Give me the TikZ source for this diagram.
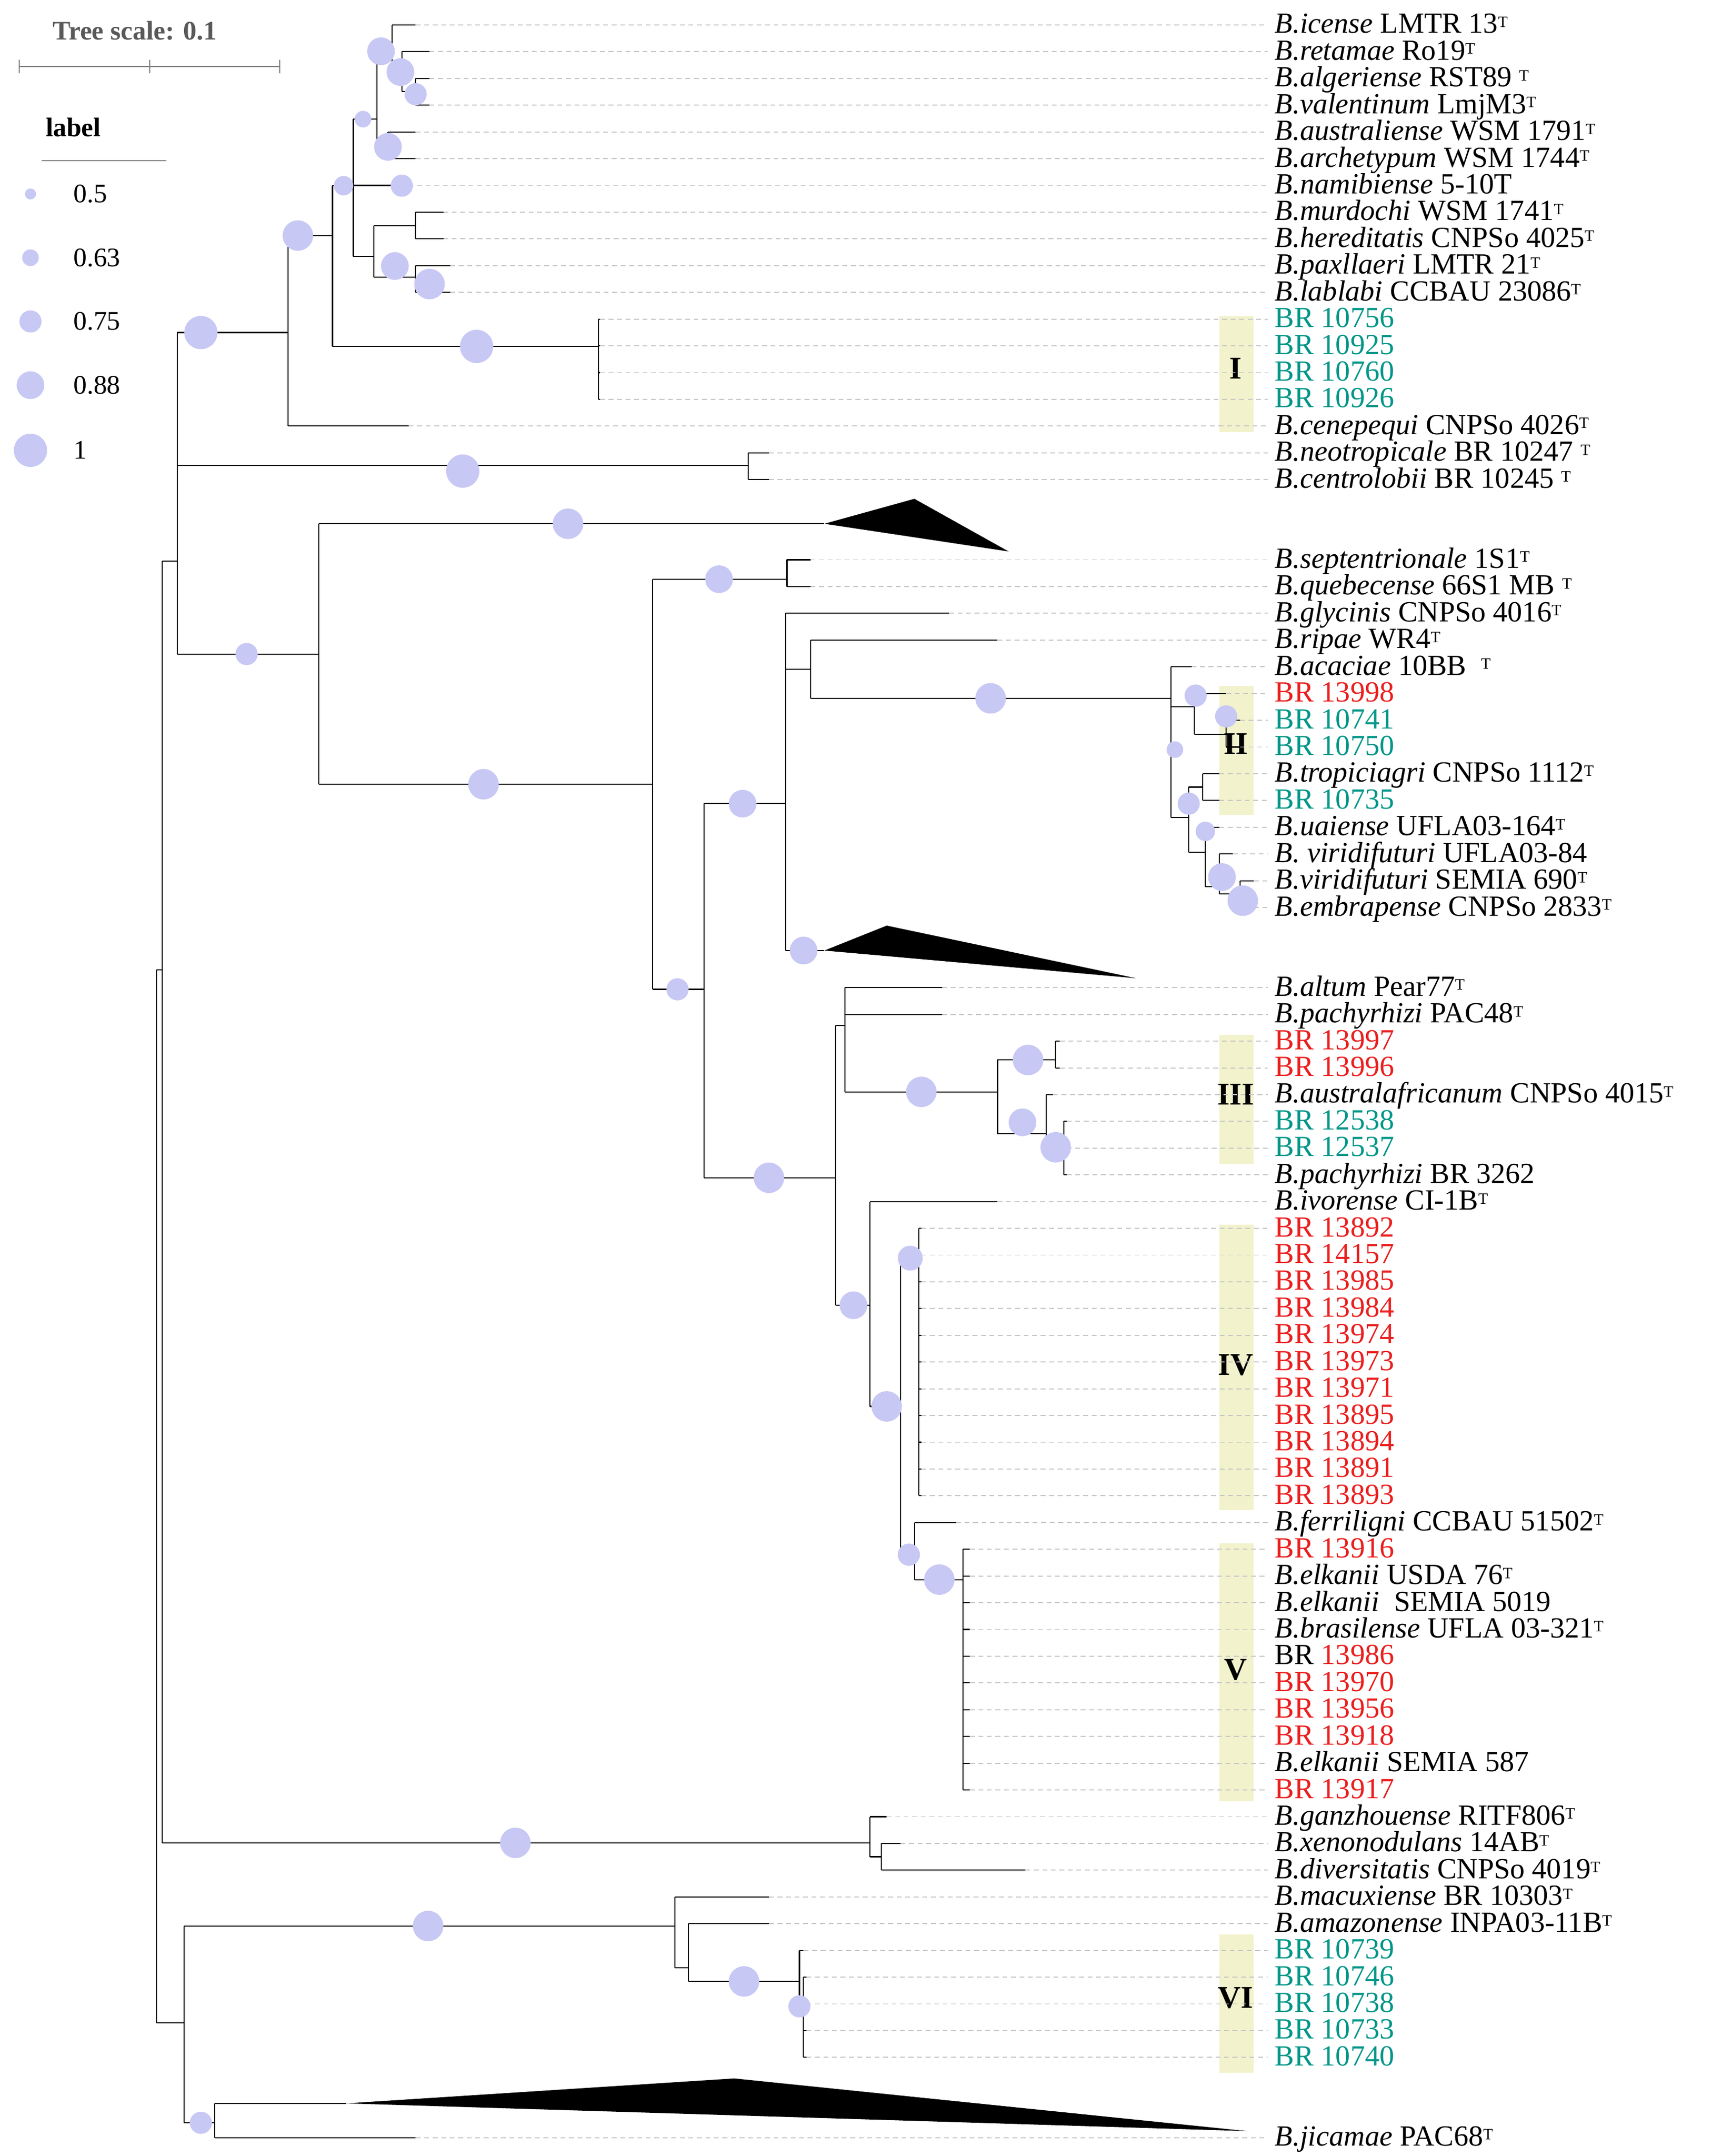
\documentclass[tikz,border=0pt]{standalone}
\usepackage{fontspec}
\setmainfont{Liberation Serif}
\definecolor{bsc}{RGB}{200,200,245}
\definecolor{tl}{RGB}{0,150,136}
\definecolor{rd}{RGB}{235,30,30}
\definecolor{cbox}{RGB}{242,242,205}
\newcommand\lf[3]{\draw[br] (#1,{18+19.3*#3}) -- (#2,{18+19.3*#3}); \draw[dsh] (#2,{18+19.3*#3}) -- (915,{18+19.3*#3});}
\newcommand\vl[3]{\draw[br] (#1,#2) -- (#1,#3);}
\newcommand\hl[3]{\draw[br] (#1,#3) -- (#2,#3);}
\newcommand\bs[3]{\fill[bsc] (#1,#2) circle[radius=#3*0.04cm];}
\newcommand\Bn[1]{\textit{B.#1}}
\newcommand\Tsup{\raisebox{0.45ex}{\fontsize{13}{13}\selectfont T}}
\begin{document}
\begin{tikzpicture}[x=0.04cm,y=-0.04cm,
  br/.style={black,line width=0.9pt},
  dsh/.style={gray!45,line width=0.8pt,dash pattern=on 4pt off 3pt},
  lab/.style={anchor=base west,inner sep=0pt,font=\fontsize{24}{26}\selectfont},
  clab/.style={font=\bfseries\fontsize{26}{28}\selectfont}]
\useasboundingbox (0,0) rectangle (1250,1556);
% legend
\node[anchor=west,text=gray!70!black,font=\bfseries\fontsize{22}{24}\selectfont] (ts) at (35,22) {Tree scale: 0.1};
\draw[gray,line width=0.9pt] (14,48) -- (202,48);
\foreach \x in {14,108,202} \draw[gray,line width=0.9pt] (\x,43) -- (\x,53);
\node[anchor=west,font=\bfseries\fontsize{22}{24}\selectfont] (lg) at (30,92) {label};
\draw[gray,line width=0.8pt] (30,116) -- (120,116);
\foreach \yy/\r/\t in {140/4/0.5,186/6/0.63,232/8/0.75,278/10/0.88,325/12/1} {
  \bs{22}{\yy}{\r}
  \node[anchor=west,font=\fontsize{22}{24}\selectfont] at (50,\yy) {\t};
}
% clade boxes
\foreach \ya/\yb/\yc/\t in {228/312/266/I,495/588/537/II,747/840/790/III,884/1090/985/IV,1114/1300/1205/V,1396/1496/1442/VI} {
  \fill[cbox] (880,\ya) rectangle (905,\yb);
  \node[clab] at (892,\yc) {\t};
}
% backbone
\vl{113}{700}{1460}
\hl{113}{117}{700}
\vl{117}{405}{1330}
\hl{117}{128}{405}
\vl{128}{240}{472}
\hl{113}{133}{1460}
\vl{133}{1390}{1532}
% top clade
\hl{128}{208}{240}
\vl{208}{170}{307.5}
\hl{208}{240}{170}
\lf{208}{295}{15}
\vl{240}{134}{250}
\hl{240}{432}{250}
\vl{432}{230.3}{288.2}
\foreach \k in {11,...,14} {\lf{432}{433}{\k}}
\hl{240}{255}{134}
\vl{255}{86}{185}
\hl{255}{272}{86}
\lf{255}{295}{6}
\hl{255}{270}{185}
\vl{272}{40}{106}
\hl{272}{283}{40}
\hl{272}{280}{106}
\vl{283}{18}{50}
\lf{283}{300}{0}
\hl{283}{290}{50}
\vl{290}{37.3}{66}
\lf{290}{310}{1}
\hl{290}{300}{66}
\vl{300}{56.6}{75.9}
\lf{300}{310}{2}\lf{300}{310}{3}
\vl{280}{95.2}{114.5}
\lf{280}{300}{4}\lf{280}{300}{5}
\vl{270}{163}{200}
\hl{270}{300}{163}
\hl{270}{300}{200}
\vl{300}{153.1}{172.4}
\lf{300}{320}{7}\lf{300}{320}{8}
\vl{300}{191.7}{211}
\lf{300}{325}{9}\lf{300}{325}{10}
% neotropicale
\hl{128}{540}{336}
\vl{540}{326.8}{346.1}
\lf{540}{555}{16}\lf{540}{555}{17}
% C
\hl{128}{230}{472}
\vl{230}{378}{566}
\hl{230}{595}{378}
\fill (595,378) -- (660,360) -- (728,398) -- cycle;
\hl{230}{471}{566}
\vl{471}{418}{714}
\hl{471}{568}{418}
\vl{568}{404}{423.3}
\lf{568}{585}{20}\lf{568}{585}{21}
\hl{471}{508}{714}
\vl{508}{580}{850}
\hl{508}{567}{580}
\vl{567}{442.6}{686}
\lf{567}{685}{22}
\hl{567}{585}{483}
\vl{585}{461.9}{504}
\lf{585}{720}{23}
\hl{585}{845}{504}
\vl{845}{481.2}{590}
\lf{845}{860}{24}
\hl{845}{862}{510}
\vl{862}{500.5}{530}
\lf{862}{885}{25}
\hl{862}{885}{530}
\vl{885}{519.8}{539.1}
\lf{885}{895}{26}\lf{885}{895}{27}
\hl{845}{858}{590}
\vl{858}{568}{615}
\hl{858}{868}{568}
\vl{868}{558.4}{577.7}
\lf{868}{880}{28}\lf{868}{880}{29}
\hl{858}{870}{615}
\vl{870}{597}{640}
\lf{870}{880}{30}
\hl{870}{880}{640}
\vl{880}{616.3}{645}
\lf{880}{890}{31}
\hl{880}{895}{645}
\vl{895}{635.6}{654.9}
\lf{895}{905}{32}\lf{895}{905}{33}
\hl{567}{595}{686}
\fill (595,686) -- (640,668) -- (820,706) -- cycle;
% H
\hl{508}{603}{850}
\vl{603}{740}{942}
\hl{603}{610}{740}
\vl{610}{712.8}{788}
\lf{610}{680}{36}\lf{610}{680}{37}
\hl{610}{720}{788}
\vl{720}{765}{818}
\hl{720}{762}{765}
\vl{762}{751.4}{770.7}
\lf{762}{765}{38}\lf{762}{765}{39}
\hl{720}{755}{818}
\vl{755}{790}{835}
\lf{755}{760}{40}
\hl{755}{768}{835}
\vl{768}{809.3}{847.9}
\foreach \k in {41,42,43} {\lf{768}{770}{\k}}
\hl{603}{628}{942}
\vl{628}{867.2}{1015}
\lf{628}{720}{44}
\hl{628}{650}{1015}
\vl{650}{910}{1125}
\hl{650}{663}{910}
\vl{663}{886.5}{1079.5}
\foreach \k in {45,...,55} {\lf{663}{665}{\k}}
\hl{650}{660}{1125}
\vl{660}{1098.8}{1140}
\lf{660}{690}{56}
\hl{660}{695}{1140}
\vl{695}{1118.1}{1291.8}
\foreach \k in {57,...,66} {\lf{695}{700}{\k}}
% ganzhouense
\hl{117}{628}{1330}
\vl{628}{1311.1}{1340}
\lf{628}{640}{67}
\hl{628}{636}{1340}
\vl{636}{1330.4}{1349.7}
\lf{636}{650}{68}\lf{636}{740}{69}
% macuxiense
\hl{133}{487}{1390}
\vl{487}{1369}{1420}
\lf{487}{555}{70}
\hl{487}{497}{1420}
\vl{497}{1388.3}{1430}
\lf{497}{555}{71}
\hl{497}{577}{1430}
\vl{577}{1407.6}{1448}
\lf{577}{580}{72}
\hl{577}{580}{1448}
\vl{580}{1426.9}{1484.8}
\foreach \k in {73,...,76} {\lf{580}{582}{\k}}
% jicamae
\hl{133}{155}{1532}
\vl{155}{1518}{1542.7}
\hl{155}{250}{1518}
\fill (250,1518) -- (530,1500) -- (900,1538) -- cycle;
\lf{155}{300}{79}
% support circles
\bs{145}{240}{12}\bs{215}{170}{11}\bs{344}{250}{12}\bs{248}{134}{7}
\bs{262}{86}{6}\bs{290}{134}{8}\bs{275}{37}{10}\bs{280}{106}{10}
\bs{289}{52}{10}\bs{300}{68}{8}\bs{285}{192}{10}\bs{310}{205}{11}
\bs{334}{340}{12}\bs{178}{472}{8}\bs{410}{378}{11}\bs{349}{566}{11}
\bs{519}{418}{10}\bs{489}{714}{8}\bs{536}{580}{10}\bs{715}{504}{11}
\bs{863}{502}{8}\bs{885}{517}{8}\bs{848}{541}{6}\bs{858}{580}{8}
\bs{870}{600}{7}\bs{882}{633}{10}\bs{897}{650}{11}\bs{580}{686}{10}
\bs{555}{850}{11}\bs{665}{788}{11}\bs{742}{765}{11}\bs{738}{810}{10}
\bs{762}{828}{11}\bs{616}{942}{10}\bs{640}{1015}{11}\bs{657}{908}{9}
\bs{656}{1122}{8}\bs{678}{1140}{11}\bs{372}{1330}{11}\bs{309}{1390}{11}
\bs{537}{1430}{11}\bs{577}{1448}{8}\bs{145}{1532}{8}
% labels
\foreach \k/\t in {
 0/{\Bn{icense} LMTR 13\Tsup},1/{\Bn{retamae} Ro19\Tsup},2/{\Bn{algeriense} RST89 \Tsup},
 3/{\Bn{valentinum} LmjM3\Tsup},4/{\Bn{australiense} WSM 1791\Tsup},5/{\Bn{archetypum} WSM 1744\Tsup},
 6/{\Bn{namibiense} 5-10T},7/{\Bn{murdochi} WSM 1741\Tsup},8/{\Bn{hereditatis} CNPSo 4025\Tsup},
 9/{\Bn{paxllaeri} LMTR 21\Tsup},10/{\Bn{lablabi} CCBAU 23086\Tsup},
 11/{\textcolor{tl}{BR 10756}},12/{\textcolor{tl}{BR 10925}},13/{\textcolor{tl}{BR 10760}},14/{\textcolor{tl}{BR 10926}},
 15/{\Bn{cenepequi} CNPSo 4026\Tsup},16/{\Bn{neotropicale} BR 10247 \Tsup},17/{\Bn{centrolobii} BR 10245 \Tsup},
 20/{\Bn{septentrionale} 1S1\Tsup},21/{\Bn{quebecense} 66S1 MB \Tsup},22/{\Bn{glycinis} CNPSo 4016\Tsup},
 23/{\Bn{ripae} WR4\Tsup},24/{\Bn{acaciae} 10BB \ \Tsup},25/{\textcolor{rd}{BR 13998}},
 26/{\textcolor{tl}{BR 10741}},27/{\textcolor{tl}{BR 10750}},28/{\Bn{tropiciagri} CNPSo 1112\Tsup},
 29/{\textcolor{tl}{BR 10735}},30/{\Bn{uaiense} UFLA03-164\Tsup},31/{\textit{B. viridifuturi} UFLA03-84},
 32/{\Bn{viridifuturi} SEMIA 690\Tsup},33/{\Bn{embrapense} CNPSo 2833\Tsup},
 36/{\Bn{altum} Pear77\Tsup},37/{\Bn{pachyrhizi} PAC48\Tsup},38/{\textcolor{rd}{BR 13997}},39/{\textcolor{rd}{BR 13996}},
 40/{\Bn{australafricanum} CNPSo 4015\Tsup},41/{\textcolor{tl}{BR 12538}},42/{\textcolor{tl}{BR 12537}},
 43/{\Bn{pachyrhizi} BR 3262},44/{\Bn{ivorense} CI-1B\Tsup},
 45/{\textcolor{rd}{BR 13892}},46/{\textcolor{rd}{BR 14157}},47/{\textcolor{rd}{BR 13985}},48/{\textcolor{rd}{BR 13984}},
 49/{\textcolor{rd}{BR 13974}},50/{\textcolor{rd}{BR 13973}},51/{\textcolor{rd}{BR 13971}},52/{\textcolor{rd}{BR 13895}},
 53/{\textcolor{rd}{BR 13894}},54/{\textcolor{rd}{BR 13891}},55/{\textcolor{rd}{BR 13893}},
 56/{\Bn{ferriligni} CCBAU 51502\Tsup},57/{\textcolor{rd}{BR 13916}},58/{\Bn{elkanii} USDA 76\Tsup},
 59/{\Bn{elkanii} \ SEMIA 5019},60/{\Bn{brasilense} UFLA 03-321\Tsup},61/{BR \textcolor{rd}{13986}},
 62/{\textcolor{rd}{BR 13970}},63/{\textcolor{rd}{BR 13956}},64/{\textcolor{rd}{BR 13918}},
 65/{\Bn{elkanii} SEMIA 587},66/{\textcolor{rd}{BR 13917}},
 67/{\Bn{ganzhouense} RITF806\Tsup},68/{\Bn{xenonodulans} 14AB\Tsup},69/{\Bn{diversitatis} CNPSo 4019\Tsup},
 70/{\Bn{macuxiense} BR 10303\Tsup},71/{\Bn{amazonense} INPA03-11B\Tsup},
 72/{\textcolor{tl}{BR 10739}},73/{\textcolor{tl}{BR 10746}},74/{\textcolor{tl}{BR 10738}},
 75/{\textcolor{tl}{BR 10733}},76/{\textcolor{tl}{BR 10740}},79/{\Bn{jicamae} PAC68\Tsup}} {
  \node[lab] (L\k) at (920,{24+19.3*\k}) {\t};
}
\end{tikzpicture}
\end{document}
